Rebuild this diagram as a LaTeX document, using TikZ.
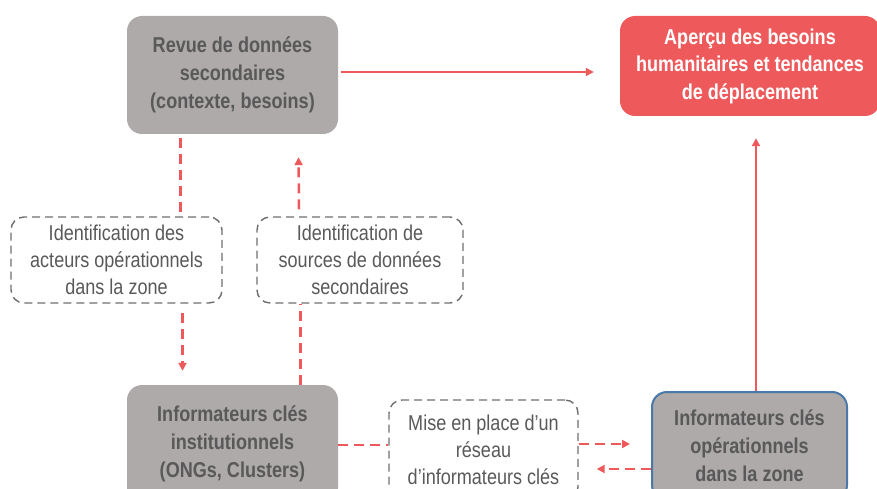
\documentclass[tikz,border=0pt]{standalone}
\usepackage{fontspec}
\setmainfont{Liberation Sans}[FakeStretch=0.84]
\usetikzlibrary{arrows.meta}
\definecolor{boxgray}{HTML}{ADAAA9}
\definecolor{txtgray}{HTML}{595959}
\definecolor{redc}{HTML}{EE5A5C}
\definecolor{bluec}{HTML}{4A78A8}
\definecolor{dashgray}{HTML}{6E6E6E}
\tikzset{
  solidbox/.style={rectangle, rounded corners=15pt, fill=boxgray, text=txtgray,
    font=\bfseries\fontsize{21.5}{28}\selectfont, align=center, inner sep=0pt},
  redbox/.style={rectangle, rounded corners=15pt, fill=redc, text=white,
    font=\bfseries\fontsize{21.5}{27.5}\selectfont, align=center, inner sep=0pt},
  dashbox/.style={rectangle, rounded corners=13pt, draw=dashgray, line width=1.4pt,
    dash pattern=on 8pt off 5pt, text=txtgray,
    font=\fontsize{21.5}{27}\selectfont, align=center, inner sep=0pt},
  redline/.style={draw=redc, line width=2.5pt},
  reddash/.style={redline, dash pattern=on 10pt off 6pt},
  tip/.style={-{Triangle[length=8pt,width=8pt]}}
}
\begin{document}
\begin{tikzpicture}[x=1pt,y=-1pt]
\useasboundingbox (0,0) rectangle (877,489);
\clip (0,0) rectangle (877,489);
\node[solidbox, minimum width=211pt, minimum height=118pt] (r1) at (232.5,75)
  {Revue de données\\secondaires\\(contexte, besoins)};
\node[redbox, minimum width=260pt, minimum height=100pt] (b2) at (750,66)
  {Aperçu des besoins\\humanitaires et tendances\\de déplacement};
\node[dashbox, minimum width=211pt, minimum height=86pt] (a) at (116.5,260)
  {Identification des\\acteurs opérationnels\\dans la zone};
\node[dashbox, minimum width=206pt, minimum height=86pt] (bb) at (360,260)
  {Identification de\\sources de données\\secondaires};
\node[solidbox, minimum width=211pt, minimum height=118pt] (r3) at (232.5,444)
  {Informateurs clés\\institutionnels\\(ONGs, Clusters)};
\node[dashbox, minimum width=189pt, minimum height=100pt] (c) at (483.5,450)
  {Mise en place d’un\\réseau\\d’informateurs clés};
\node[solidbox, rounded corners=15pt, draw=bluec, line width=2pt,
  minimum width=195pt, minimum height=108pt] (r4) at (749.5,446)
  {Informateurs clés\\opérationnels\\dans la zone};
% connectors
\draw[redline, tip] ([xshift=3pt,yshift=3pt]r1.east) -- ([xshift=-26pt,yshift=-6pt]b2.west);
\draw[reddash] ([xshift=-52pt,yshift=-4pt]r1.south) -- ([xshift=64pt]a.north);
\draw[reddash, tip] ([xshift=66pt,yshift=-9pt]a.south) -- ([xshift=-50pt,yshift=14pt]r3.north);
\draw[reddash] ([xshift=68pt]r3.north) -- ([xshift=-59.5pt]bb.south);
\draw[reddash, tip] ([xshift=-61pt,yshift=7pt]bb.north) -- ([xshift=66pt,yshift=-23pt]r1.south);
\draw[reddash] ([yshift=-1pt]r3.east) -- ([yshift=5pt]c.west);
\draw[reddash, tip] ([yshift=6pt]c.east) -- ([xshift=-21pt,yshift=2pt]r4.west);
\draw[reddash, tip] ([yshift=-23pt]r4.west) -- ([xshift=18pt,yshift=-19pt]c.east);
\draw[redline, tip] ([xshift=6.5pt]r4.north) -- ([xshift=6pt,yshift=-22pt]b2.south);
\end{tikzpicture}
\end{document}
